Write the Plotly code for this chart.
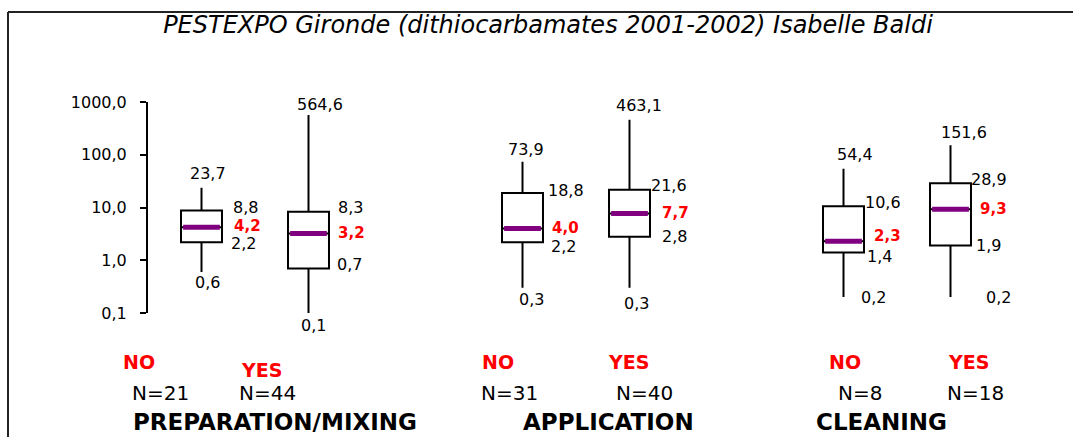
import math
import plotly.graph_objects as go

# ---------------- data ----------------
groups = ["PREPARATION/MIXING", "APPLICATION", "CLEANING"]
answers = ["NO", "YES"]
n_counts = [21, 44, 31, 40, 8, 18]
lower_whisker = [0.6, 0.1, 0.3, 0.3, 0.2, 0.2]
q1_values = [2.2, 0.7, 2.2, 2.8, 1.4, 1.9]
median_values = [4.2, 3.2, 4.0, 7.7, 2.3, 9.3]
q3_values = [8.8, 8.3, 18.8, 21.6, 10.6, 28.9]
upper_whisker = [23.7, 564.6, 73.9, 463.1, 54.4, 151.6]
y_tickvals = [0.1, 1, 10, 100, 1000]
y_ticktext = ["0,1", "1,0", "10,0", "100,0", "1000,0"]
title_text = "PESTEXPO Gironde (dithiocarbamates 2001-2002) Isabelle Baldi"

# ---------------- layout helpers ----------------
W, H = 1073, 437
PL, PR, PT, PB = 148, 1004, 102, 313   # plot area in px
BOX_W = 0.383
positions = []
for g in range(len(groups)):
    for k in range(len(answers)):
        positions.append(3 * g + k)
XR = [-0.5, 7.5]

def fmt(v):
    return f"{v:.1f}".replace(".", ",")

NUM_FONT = dict(family="DejaVu Sans", size=16, color="black")
RED_FONT = dict(family="DejaVu Sans", size=15, color="#ff0000", weight="bold")

fig = go.Figure()

for i, p in enumerate(positions):
    fig.add_trace(go.Box(
        x=[p], q1=[q1_values[i]], median=[median_values[i]], q3=[q3_values[i]],
        lowerfence=[lower_whisker[i]], upperfence=[upper_whisker[i]],
        width=BOX_W, whiskerwidth=0,
        fillcolor="white", line=dict(color="black", width=2),
        boxpoints=False, showlegend=False, hoverinfo="skip",
    ))
    fig.add_trace(go.Scatter(
        x=[p - BOX_W / 2 + 0.02, p + BOX_W / 2 - 0.02],
        y=[median_values[i], median_values[i]],
        mode="lines", line=dict(color="#800080", width=5),
        showlegend=False, hoverinfo="skip",
    ))

# label offsets (px) relative to box centre and value position: (dx, dy)
off_upper = [(6, -14), (11, -11), (3, -12), (9, -14), (11, -14), (13, -13)]
off_q3 = [(44, -3), (42, -4), (43, -3), (39, -4), (39, -4), (38, -4)]
off_med = [(46, -1), (43, -1), (43, 0), (46, 0), (44, -5), (43, 0)]
off_q1 = [(42, 1), (41, -4), (41, 4), (45, 0), (36, 4), (38, 0)]
off_lower = [(6, 11), (5, 12), (9, 12), (7, 16), (30, 0), (48, 0)]

ann = []
for i, p in enumerate(positions):
    for vals, offs, font in [
        (upper_whisker, off_upper, NUM_FONT),
        (q3_values, off_q3, NUM_FONT),
        (median_values, off_med, RED_FONT),
        (q1_values, off_q1, NUM_FONT),
        (lower_whisker, off_lower, NUM_FONT),
    ]:
        dx, dy = offs[i]
        ann.append(dict(
            x=p, y=math.log10(vals[i]), xref="x", yref="y",
            text=fmt(vals[i]), showarrow=False, font=font,
            xanchor="center", yanchor="middle", xshift=dx, yshift=-dy,
        ))

# NO / YES and N= labels below the plot (px offsets from box centre)
ans_dx = [-63, -47, -25, -1, 1, 18]
ans_y = [362, 370, 362, 362, 362, 362]
n_dx = [-41, -41, -13, 15, 16, 25]
for i, p in enumerate(positions):
    ann.append(dict(
        x=p, y=0, xref="x", yref="paper", text=answers[i % 2], showarrow=False,
        font=dict(family="DejaVu Sans", size=19, color="#ff0000", weight="bold"),
        xanchor="center", yanchor="middle", xshift=ans_dx[i], yshift=-(ans_y[i] - PB),
    ))
    ann.append(dict(
        x=p, y=0, xref="x", yref="paper", text=f"N={n_counts[i]}", showarrow=False,
        font=dict(family="DejaVu Sans", size=20, color="black"),
        xanchor="center", yanchor="middle", xshift=n_dx[i], yshift=-(393 - PB),
    ))

grp_dx = [20, 32, -16]
for g, name in enumerate(groups):
    mid = (positions[2 * g] + positions[2 * g + 1]) / 2
    ann.append(dict(
        x=mid, y=0, xref="x", yref="paper", text=name, showarrow=False,
        font=dict(family="DejaVu Sans", size=23, color="black", weight="bold"),
        xanchor="center", yanchor="middle", xshift=grp_dx[g], yshift=-(422 - PB),
    ))

# frame lines (top and left), in paper coords
def px2paper_x(px):
    return (px - PL) / (PR - PL)

def px2paper_y(py):
    return (PB - py) / (PB - PT)

shapes = [
    dict(type="line", xref="paper", yref="paper",
         x0=px2paper_x(8), x1=px2paper_x(W + 5), y0=px2paper_y(12), y1=px2paper_y(12),
         line=dict(color="#222222", width=2)),
    dict(type="line", xref="paper", yref="paper",
         x0=px2paper_x(8), x1=px2paper_x(8), y0=px2paper_y(12), y1=px2paper_y(H + 5),
         line=dict(color="#222222", width=2)),
]

fig.update_layout(
    width=W, height=H, autosize=False,
    margin=dict(l=PL, r=W - PR, t=PT, b=H - PB),
    paper_bgcolor="white", plot_bgcolor="white",
    title=dict(text=title_text, x=548 / W, xanchor="center", y=1 - 25 / H, yanchor="middle",
               xref="container", yref="container",
               font=dict(family="DejaVu Sans", size=24, color="black", style="italic")),
    showlegend=False,
    annotations=ann,
    shapes=shapes,
    xaxis=dict(range=XR, visible=False, showgrid=False, zeroline=False),
    yaxis=dict(type="log", range=[-1, 3], tickvals=y_tickvals, ticktext=y_ticktext,
               ticks="outside", ticklen=6, tickwidth=2, tickcolor="black",
               showline=True, linecolor="black", linewidth=2, showgrid=False,
               zeroline=False, ticklabelstandoff=10,
               tickfont=dict(family="DejaVu Sans", size=16, color="black")),
)

fig.write_html("out.html", config={"displayModeBar": False},
               post_script="document.body.style.margin='0';document.body.style.overflow='hidden';")
